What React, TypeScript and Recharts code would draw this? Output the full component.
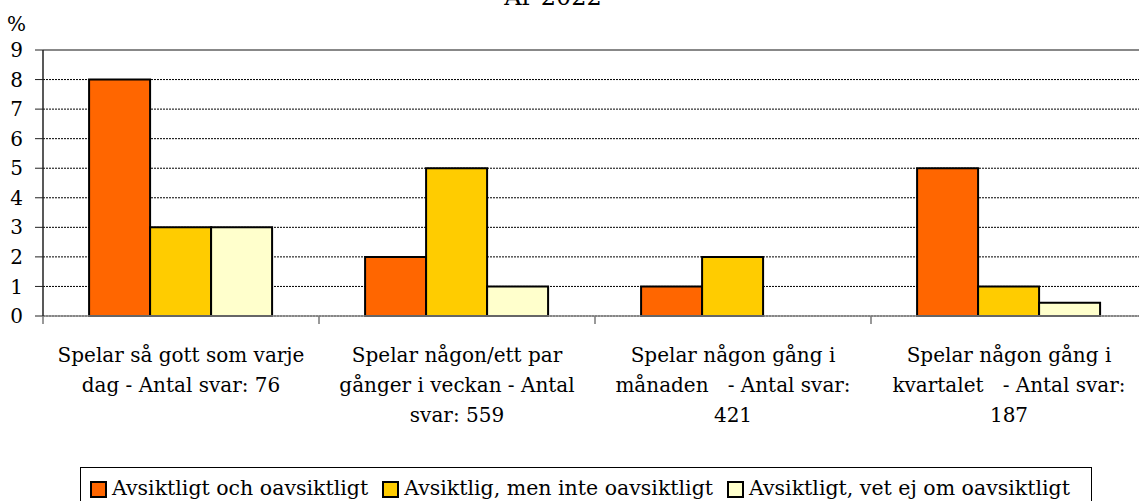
import { BarChart, Bar, XAxis, YAxis, CartesianGrid, ReferenceLine } from "recharts";

const categories = [
  ["Spelar så gott som varje", "dag - Antal svar: 76"],
  ["Spelar någon/ett par", "gånger i veckan - Antal", "svar: 559"],
  ["Spelar någon gång i", "månaden   - Antal svar:", "421"],
  ["Spelar någon gång i", "kvartalet   - Antal svar:", "187"],
];
const avsiktligtOch = [8, 2, 1, 5];
const avsiktligMen = [3, 5, 2, 1];
const vetEj: (number | null)[] = [3, 1, null, 0.45];
const yTicks = [0, 1, 2, 3, 4, 5, 6, 7, 8, 9];

const series = [
  { key: "a", label: "Avsiktligt och oavsiktligt", color: "#FF6600" },
  { key: "b", label: "Avsiktlig, men inte oavsiktligt", color: "#FFCC00" },
  { key: "c", label: "Avsiktligt, vet ej om oavsiktligt", color: "#FFFFCC" },
];

const data = categories.map((lines, i) => ({
  name: lines.join(" "),
  a: avsiktligtOch[i],
  b: avsiktligMen[i],
  c: vetEj[i],
}));

const font = "DejaVu Serif";

// category label + the little tick at the left edge of each category
const CatTick = ({ x, y, payload }: any) => {
  const lines = categories[payload.index] ?? [];
  const edge = x - (payload.offset ?? 0);
  return (
    <g>
      <line x1={edge} x2={edge} y1={y} y2={y + 8} stroke="#777" strokeWidth={1.5} />
      <text x={x} y={y + 46} textAnchor="middle" fontSize={20} style={{ fontFamily: font, whiteSpace: "pre" }} fill="#000">
        {lines.map((l, i) => (
          <tspan key={i} x={x} dy={i === 0 ? 0 : 30}>
            {l}
          </tspan>
        ))}
      </text>
    </g>
  );
};

export default function App() {
  return (
    <div style={{ position: "absolute", left: 0, top: 0, width: 1139, height: 501, overflow: "hidden", background: "#fff", fontFamily: font }}>
      <div style={{ position: "absolute", left: 0, width: 1106, top: -17, textAlign: "center", fontSize: 24, lineHeight: "28px" }}>
        År 2022
      </div>
      <div style={{ position: "absolute", left: 7, top: 12, fontSize: 20, lineHeight: "24px" }}>%</div>
      <BarChart
        width={1160}
        height={501}
        data={data}
        margin={{ top: 50, right: 13, left: 0, bottom: 155 }}
        barCategoryGap="16.7%"
        barGap={0}
      >
        <CartesianGrid horizontal vertical={false} stroke="#000" strokeDasharray="2 1" strokeWidth={1} />
        <ReferenceLine y={9} stroke="#888" strokeWidth={2} />
        <XAxis
          dataKey="name"
          tick={<CatTick />}
          interval={0}
          height={30}
          tickSize={0}
          tickMargin={0}
          axisLine={{ stroke: "#888", strokeWidth: 1.5 }}
          tickLine={false}
        />
        <YAxis
          width={43}
          domain={[0, 9]}
          ticks={yTicks}
          interval={0}
          tickSize={8}
          tickMargin={12}
          axisLine={{ stroke: "#222", strokeWidth: 1.5 }}
          tickLine={{ stroke: "#222" }}
          tick={{ fontSize: 20, fontFamily: font, fill: "#000", textAnchor: "end" }}
        />
        {series.map((s) => (
          <Bar key={s.key} dataKey={s.key} name={s.label} fill={s.color} stroke="#000" strokeWidth={2} isAnimationActive={false} />
        ))}
      </BarChart>
      <div
        style={{
          position: "absolute",
          left: 80,
          top: 467,
          width: 1012,
          height: 50,
          boxSizing: "border-box",
          display: "flex",
          alignItems: "flex-start",
          border: "1px solid #000",
          padding: "8px 0 0 9px",
          fontSize: 20.5,
          lineHeight: "24px",
          whiteSpace: "nowrap",
          background: "#fff",
        }}
      >
        {series.map((s) => (
          <span key={s.key} style={{ display: "flex", alignItems: "center", marginRight: 14 }}>
            <span
              style={{
                width: 17,
                height: 17,
                boxSizing: "border-box",
                background: s.color,
                border: "2px solid #000",
                display: "inline-block",
                marginRight: 5,
                marginTop: 2,
              }}
            />
            {s.label}
          </span>
        ))}
      </div>
    </div>
  );
}
